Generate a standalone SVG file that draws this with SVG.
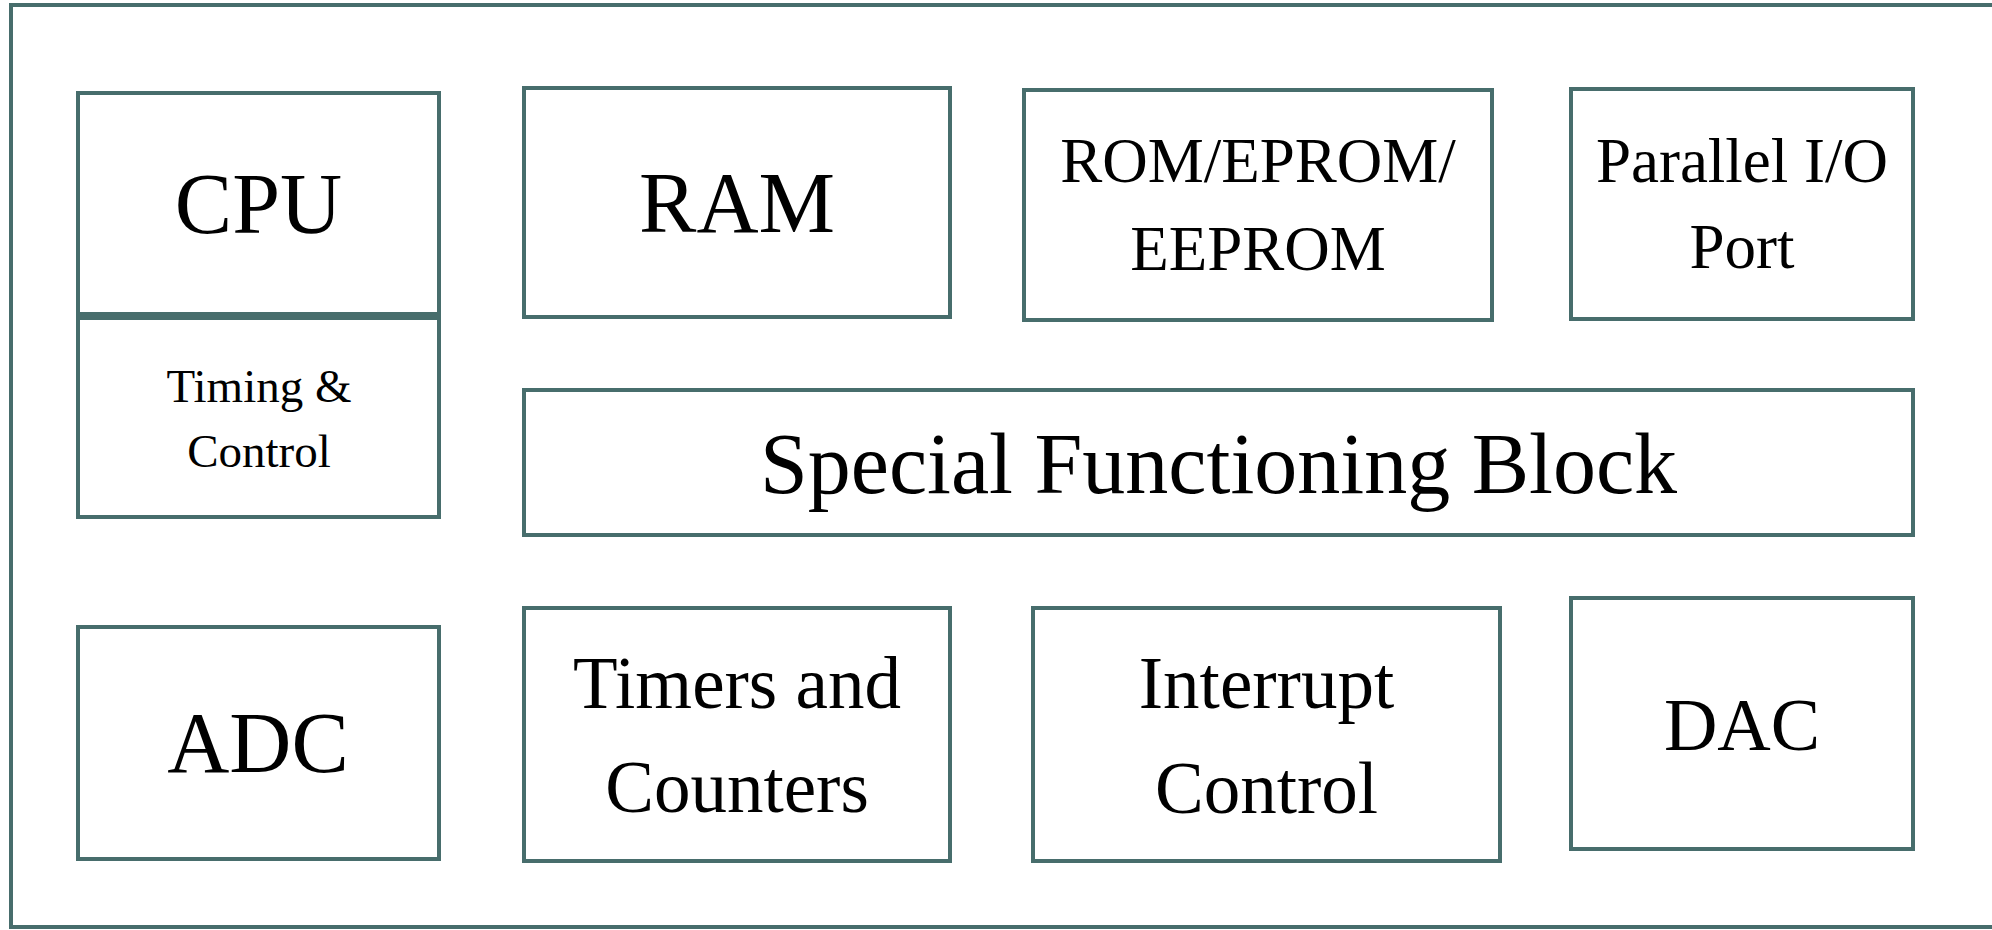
<svg xmlns="http://www.w3.org/2000/svg" width="1992" height="930" viewBox="0 0 1992 930">
<style>
.box{fill:#ffffff;stroke:#476d6c;stroke-width:4}
.t{font-family:"Liberation Serif","Times New Roman",serif;fill:#000;text-anchor:middle}
</style>
<rect x="0" y="0" width="1992" height="930" fill="#ffffff"/>
<g id="frame"><rect class="box" x="11" y="5" width="2000" height="922"/></g>
<g id="cpu"><rect class="box" x="78" y="93" width="361" height="221"/><text class="t" x="258.5" y="233" font-size="86">CPU</text></g>
<g id="timing"><rect class="box" x="78" y="318" width="361" height="199"/><text class="t" x="259" y="402" font-size="47">Timing &amp;</text><text class="t" x="259" y="467" font-size="47">Control</text></g>
<g id="ram"><rect class="box" x="524" y="88" width="426" height="229"/><text class="t" x="737" y="232" font-size="86">RAM</text></g>
<g id="rom"><rect class="box" x="1024" y="90" width="468" height="230"/><text class="t" x="1258" y="182" font-size="63">ROM/EPROM/</text><text class="t" x="1258" y="270" font-size="63">EEPROM</text></g>
<g id="pio"><rect class="box" x="1571" y="89" width="342" height="230"/><text class="t" x="1742" y="182" font-size="63">Parallel I/O</text><text class="t" x="1742" y="268" font-size="63">Port</text></g>
<g id="sfb"><rect class="box" x="524" y="390" width="1389" height="145"/><text class="t" x="1218.5" y="493" font-size="86">Special Functioning Block</text></g>
<g id="adc"><rect class="box" x="78" y="627" width="361" height="232"/><text class="t" x="258" y="772" font-size="86">ADC</text></g>
<g id="timers"><rect class="box" x="524" y="608" width="426" height="253"/><text class="t" x="737" y="708" font-size="73">Timers and</text><text class="t" x="737" y="812" font-size="73">Counters</text></g>
<g id="interrupt"><rect class="box" x="1033" y="608" width="467" height="253"/><text class="t" x="1266.5" y="708" font-size="73">Interrupt</text><text class="t" x="1266.5" y="813" font-size="73">Control</text></g>
<g id="dac"><rect class="box" x="1571" y="598" width="342" height="251"/><text class="t" x="1742" y="750" font-size="74">DAC</text></g>
<g id="connectors"></g>
</svg>
